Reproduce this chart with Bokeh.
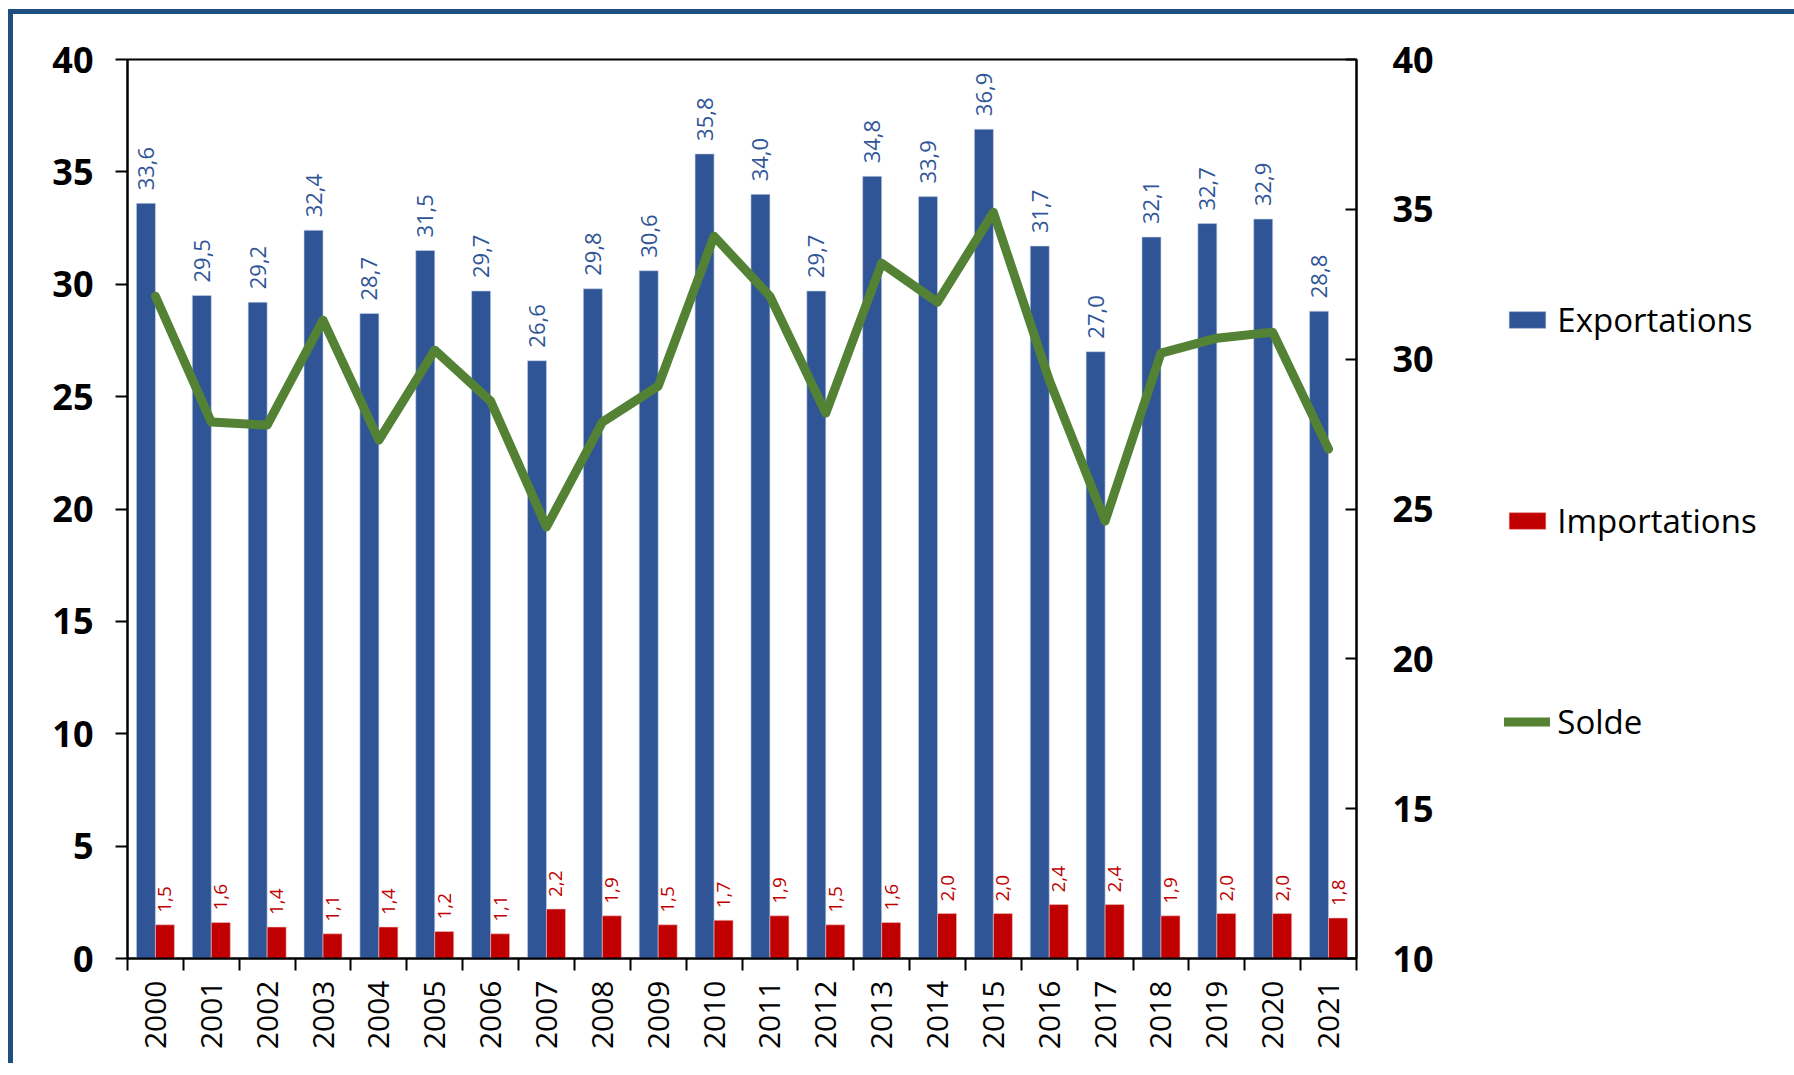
import math
from bokeh.plotting import figure
from bokeh.models import (Range1d, LinearAxis, FixedTicker, Legend, LegendItem,
                          ColumnDataSource)
from bokeh.core.properties import value
from bokeh.transform import dodge
from bokeh.embed import file_html
from bokeh.resources import INLINE

years = ["2000", "2001", "2002", "2003", "2004", "2005", "2006", "2007", "2008", "2009",
         "2010", "2011", "2012", "2013", "2014", "2015", "2016", "2017", "2018", "2019",
         "2020", "2021"]
exportations = [33.6, 29.5, 29.2, 32.4, 28.7, 31.5, 29.7, 26.6, 29.8, 30.6,
                35.8, 34.0, 29.7, 34.8, 33.9, 36.9, 31.7, 27.0, 32.1, 32.7,
                32.9, 28.8]
importations = [1.5, 1.6, 1.4, 1.1, 1.4, 1.2, 1.1, 2.2, 1.9, 1.5,
                1.7, 1.9, 1.5, 1.6, 2.0, 2.0, 2.4, 2.4, 1.9, 2.0,
                2.0, 1.8]
solde = [32.1, 27.9, 27.8, 31.3, 27.3, 30.3, 28.6, 24.4, 27.9, 29.1,
         34.1, 32.1, 28.2, 33.2, 31.9, 34.9, 29.3, 24.6, 30.2, 30.7,
         30.9, 27.0]
left_ticks = [0, 5, 10, 15, 20, 25, 30, 35, 40]
right_ticks = [10, 15, 20, 25, 30, 35, 40]

FONT = "Open Sans"
BLUE = "#2F5597"
RED = "#C00000"
GREEN = "#548235"

idx = list(range(len(years)))
src = ColumnDataSource(dict(
    x=idx,
    exp=exportations,
    imp=importations,
    solde=solde,
    exp_lbl=[f"{v:.1f}".replace(".", ",") for v in exportations],
    imp_lbl=[f"{v:.1f}".replace(".", ",") for v in importations],
))

p = figure(frame_width=1229, frame_height=899,
           x_range=Range1d(-0.5, len(years) - 0.5), y_range=Range1d(0, 40),
           output_backend="svg", toolbar_location=None,
           min_border_left=114, min_border_right=430,
           min_border_top=45, min_border_bottom=105,
           background_fill_color="white", border_fill_color="white")
p.styles = {"border-top": "5px solid #1F4E80", "border-left": "5px solid #1F4E80",
            "margin-left": "8px", "margin-top": "9px"}

p.extra_y_ranges = {"right": Range1d(10, 40)}

p.grid.visible = False
p.outline_line_color = "black"
p.outline_line_width = 2

bw = 0.34
r_exp = p.vbar(x=dodge("x", -bw / 2), top="exp", width=bw, source=src, fill_color=BLUE,
               line_color="#C9D3E8", line_width=0.6)
r_imp = p.vbar(x=dodge("x", bw / 2), top="imp", width=bw, source=src,
               fill_color=RED, line_color="#F2C0C0", line_width=0.6)

r_sol = p.line(x="x", y="solde", source=src, y_range_name="right",
               line_color=GREEN, line_width=9, line_cap="round", line_join="round")

p.text(x=dodge("x", -bw / 2), y="exp", text="exp_lbl", source=src, angle=math.pi / 2,
       text_align="left", text_baseline="middle", y_offset=-13,
       text_font=value(FONT), text_font_size="22px", text_color=BLUE)
p.text(x=dodge("x", bw / 2), y="imp", text="imp_lbl", source=src, angle=math.pi / 2,
       text_align="left", text_baseline="middle", y_offset=-12,
       text_font=value(FONT), text_font_size="19px", text_color=RED)

# x axis
xa = p.xaxis[0]
xa.ticker = FixedTicker(ticks=idx, minor_ticks=[i - 0.5 for i in range(len(years) + 1)])
xa.major_label_overrides = {i: y for i, y in enumerate(years)}
xa.major_label_orientation = math.pi / 2
xa.major_tick_out = 0
xa.major_tick_in = 0
xa.minor_tick_out = 12
xa.minor_tick_in = 0
xa.minor_tick_line_color = "black"
xa.minor_tick_line_width = 2
xa.axis_line_width = 2
xa.major_label_text_font = FONT
xa.major_label_text_font_size = "30px"
xa.major_label_text_color = "black"
xa.major_label_standoff = 10

# left axis
ya = p.yaxis[0]
ya.ticker = FixedTicker(ticks=left_ticks)
ya.major_tick_out = 12
ya.major_tick_in = 0
ya.minor_tick_out = 0
ya.minor_tick_in = 0
ya.axis_line_width = 2
ya.major_tick_line_width = 2
ya.major_label_text_font = FONT
ya.major_label_text_font_style = "bold"
ya.major_label_text_font_size = "36px"
ya.major_label_text_color = "black"
ya.major_label_standoff = 22

# right axis
ra = LinearAxis(y_range_name="right", ticker=FixedTicker(ticks=right_ticks))
ra.major_tick_out = 0
ra.major_tick_in = 11
ra.minor_tick_out = 0
ra.minor_tick_in = 0
ra.axis_line_width = 2
ra.major_tick_line_width = 2
ra.major_label_text_font = FONT
ra.major_label_text_font_style = "bold"
ra.major_label_text_font_size = "36px"
ra.major_label_text_color = "black"
ra.major_label_standoff = 36
p.add_layout(ra, "right")

legend = Legend(items=[LegendItem(label="Exportations", renderers=[r_exp]),
                       LegendItem(label="Importations", renderers=[r_imp]),
                       LegendItem(label="Solde", renderers=[r_sol])],
                location=(-161, 214), orientation="vertical",
                glyph_width=46, glyph_height=21, label_height=46,
                label_standoff=7, spacing=155, padding=0, margin=0,
                border_line_color=None, background_fill_alpha=0,
                label_text_font=FONT, label_text_font_size="33px",
                label_text_color="black")
p.add_layout(legend, "right")

open("out.html", "w").write(file_html(p, INLINE))
